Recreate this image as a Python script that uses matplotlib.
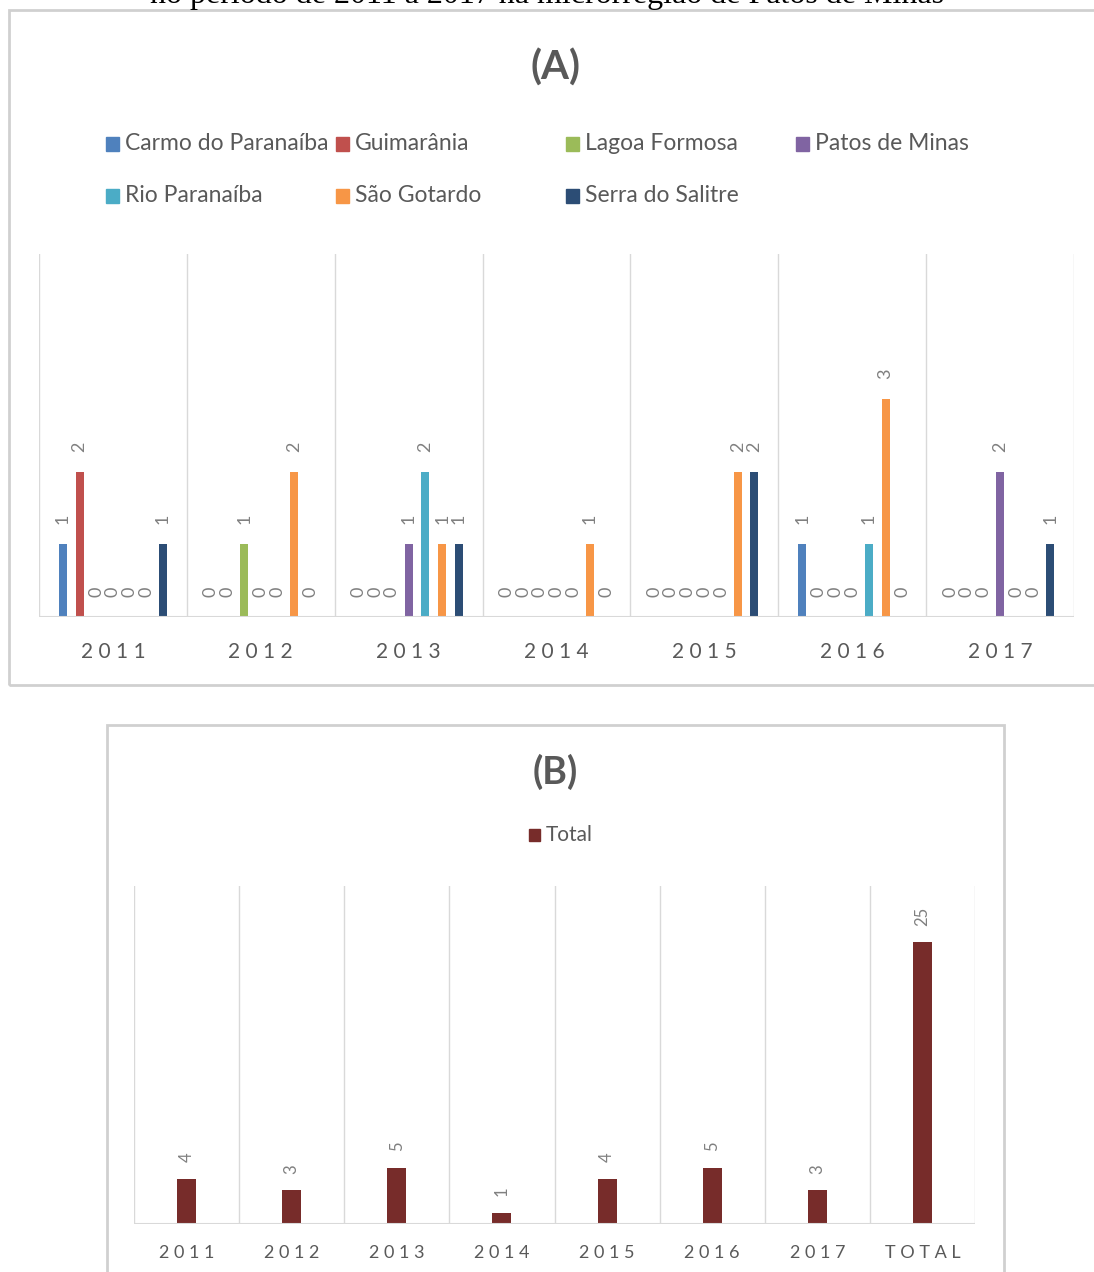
import matplotlib
matplotlib.use("Agg")
import matplotlib.pyplot as plt
from matplotlib.patches import Rectangle
import numpy as np

plt.rcParams["font.family"] = ["Lato", "DejaVu Sans"]

W, H = 1094, 1272

years = ["2011", "2012", "2013", "2014", "2015", "2016", "2017"]
municipios = ["Carmo do Paranaíba", "Guimarânia", "Lagoa Formosa", "Patos de Minas",
              "Rio Paranaíba", "São Gotardo", "Serra do Salitre"]
carmo = [1, 0, 0, 0, 0, 1, 0]
guimarania = [2, 0, 0, 0, 0, 0, 0]
lagoa = [0, 1, 0, 0, 0, 0, 0]
patos = [0, 0, 1, 0, 0, 0, 2]
rio = [0, 0, 2, 0, 0, 1, 0]
sao_gotardo = [0, 2, 1, 1, 2, 3, 0]
serra = [1, 0, 1, 0, 2, 0, 1]
series = [carmo, guimarania, lagoa, patos, rio, sao_gotardo, serra]
cores = ["#4F81BD", "#C0504D", "#9BBB59", "#8064A2", "#4BACC6", "#F79646", "#2C4D75"]

cats_b = years + ["TOTAL"]
totais = [4, 3, 5, 1, 4, 5, 3, 25]
cor_total = "#772C2A"

GRID = "#D9D9D9"
TXT = "#595959"
LBL = "#808080"

caption = "no período de 2011 a 2017 na microrregião de Patos de Minas"


def fx(x):
    return x / W


def fy(y):
    return 1 - y / H


def spaced(s):
    return " ".join(s)


fig = plt.figure(figsize=(W / 100, H / 100), dpi=100)
fig.patch.set_facecolor("white")

# caption line running off the top of the page
fig.text(0.5, fy(3), caption, ha="center", va="baseline",
         family=["Liberation Serif"], fontsize=23, color="black")

# chart frames
fig.add_artist(Rectangle((fx(9), fy(685)), 1.1, fy(10) - fy(685),
                         transform=fig.transFigure, fill=False,
                         edgecolor="#D0D0D0", lw=2))
fig.add_artist(Rectangle((fx(107), -0.1), fx(1004) - fx(107), fy(725) + 0.1,
                         transform=fig.transFigure, fill=False,
                         edgecolor="#D0D0D0", lw=2))

# ---- (A) per municipality ----
axA = fig.add_axes([fx(39), fy(617), fx(1074) - fx(39), fy(254) - fy(617)])
n = len(series)
slot = 0.79 / n
bw = 0.054
x = np.arange(len(years))
for j, (vals, c) in enumerate(zip(series, cores)):
    pos = x + (j - (n - 1) / 2) * slot
    axA.bar(pos, vals, width=bw, color=c, zorder=3)
    for p, v in zip(pos, vals):
        axA.annotate(str(v), (p, v), xytext=(0, 14.5), textcoords="offset points",
                     ha="center", va="bottom", rotation=90, fontsize=13,
                     color=LBL)
axA.set_xlim(-0.5, len(years) - 0.5)
axA.set_ylim(0, 5)
for b in np.arange(-0.5, len(years), 1.0):
    axA.axvline(b, color=GRID, lw=1, zorder=1)
axA.axhline(0, color=GRID, lw=1.5, zorder=4)
axA.set_xticks(x)
axA.set_xticklabels([spaced(y) for y in years], fontsize=15, color=TXT)
axA.tick_params(axis="x", length=0, pad=18)
axA.set_yticks([])
for s in axA.spines.values():
    s.set_visible(False)

fig.text(fx(555), fy(68), "(A)", ha="center", va="center", fontsize=29,
         fontweight="bold", color=TXT)
for i, (nome, c) in enumerate(zip(municipios, cores)):
    r, col = divmod(i, 4)
    xm = 106 + col * 230
    ym = 144 + r * 52
    fig.add_artist(Rectangle((fx(xm), fy(ym + 7)), fx(13), fy(ym - 7) - fy(ym + 7),
                             transform=fig.transFigure, color=c))
    fig.text(fx(xm + 19), fy(ym), nome, ha="left", va="center", fontsize=16.5,
             color=TXT)

# ---- (B) totals ----
axB = fig.add_axes([fx(134), fy(1224), fx(975) - fx(134), fy(886) - fy(1224)])
xb = np.arange(len(cats_b))
axB.bar(xb, totais, width=0.18, color=cor_total, zorder=3)
for p, v in zip(xb, totais):
    axB.annotate(str(v), (p, v), xytext=(0, 12), textcoords="offset points",
                 ha="center", va="bottom", rotation=90, fontsize=12, color=LBL)
axB.set_xlim(-0.5, len(cats_b) - 0.5)
axB.set_ylim(0, 30)
for b in np.arange(-0.5, len(cats_b), 1.0):
    axB.axvline(b, color=GRID, lw=1, zorder=1)
axB.axhline(0, color=GRID, lw=1.5, zorder=4)
axB.set_xticks(xb)
axB.set_xticklabels([spaced(c) for c in cats_b], fontsize=13, color=TXT)
axB.tick_params(axis="x", length=0, pad=15)
axB.set_yticks([])
for s in axB.spines.values():
    s.set_visible(False)

fig.text(fx(555), fy(772), "(B)", ha="center", va="center", fontsize=27,
         fontweight="bold", color=TXT)
fig.add_artist(Rectangle((fx(529), fy(841)), fx(11), fy(829) - fy(841),
                         transform=fig.transFigure, color=cor_total))
fig.text(fx(546), fy(835), "Total", ha="left", va="center", fontsize=15,
         color=TXT)

fig.savefig("out.png", dpi=100)
